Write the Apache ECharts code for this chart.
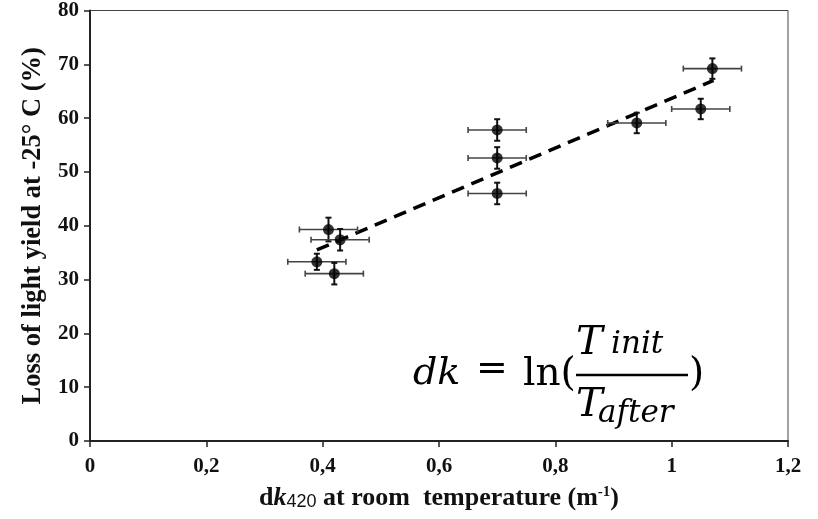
<!DOCTYPE html>
<html><head><meta charset="utf-8">
<script src="https://cdn.jsdelivr.net/npm/echarts@6/dist/echarts.min.js"></script>
<style>html,body{margin:0;padding:0;background:#fff}#c{width:818px;height:519px}</style>
</head><body><div id="c"></div>
<script>
// Data
const dkValues   = [0.39, 0.42, 0.41, 0.43, 0.70, 0.70, 0.70, 0.94, 1.05, 1.07];
const lossValues = [33.3, 31.1, 39.3, 37.4, 57.8, 52.6, 46.0, 59.1, 61.7, 69.2];
const dkErrors   = [0.05, 0.05, 0.05, 0.05, 0.05, 0.05, 0.05, 0.05, 0.05, 0.05];
const lossErrors = [1.5, 2.0, 2.2, 2.0, 2.0, 2.0, 2.0, 1.9, 1.9, 1.9];
const trendX = [0.39, 1.072];
const trendY = [35.5, 67.0];
const xTickLabels = ['0', '0,2', '0,4', '0,6', '0,8', '1', '1,2'];
const yTickLabels = ['0', '10', '20', '30', '40', '50', '60', '70', '80'];

const points = dkValues.map((x, i) => [x, lossValues[i]]);
const errData = dkValues.map((x, i) => [x, lossValues[i], dkErrors[i], lossErrors[i]]);
const trendData = trendX.map((x, i) => [x, trendY[i]]);

const serif = "'Liberation Serif', 'Times New Roman', serif";
const sans = "'Liberation Sans', Arial, sans-serif";
const mathFont = "'DejaVu Serif', serif";

const chart = echarts.init(document.getElementById('c'), null, {renderer: 'canvas'});
chart.setOption({
  animation: false,
  backgroundColor: '#fff',
  grid: {left: 90, right: 30, top: 9, bottom: 78, show: true, borderColor: '#444', borderWidth: 1},
  xAxis: {
    type: 'value', min: 0, max: 1.2, interval: 0.2,
    axisLine: {show: true, lineStyle: {color: '#222', width: 2}},
    axisTick: {show: true, inside: false, length: 6, lineStyle: {color: '#222', width: 1.5}},
    splitLine: {show: false},
    axisLabel: {
      margin: 15, color: '#111', fontFamily: serif, fontWeight: 'bold', fontSize: 21,
      formatter: v => xTickLabels[Math.round(v / 0.2)]
    },
    name: 'd{k|k}{sub|420} at room  temperature (m{sup|-1})',
    nameLocation: 'middle', nameGap: 44,
    nameTextStyle: {
      color: '#111', fontFamily: serif, fontWeight: 'bold', fontSize: 26,
      rich: {
        k: {fontFamily: serif, fontWeight: 'bold', fontStyle: 'italic', fontSize: 26, color: '#111'},
        sub: {fontFamily: sans, fontWeight: 'normal', fontSize: 18, color: '#111', padding: [8, 0, 0, 0]},
        sup: {fontFamily: serif, fontWeight: 'bold', fontSize: 15, color: '#111', padding: [0, 0, 12, 0]}
      }
    }
  },
  yAxis: {
    type: 'value', min: 0, max: 80, interval: 10,
    axisLine: {show: true, lineStyle: {color: '#222', width: 2}},
    axisTick: {show: true, inside: false, length: 6, lineStyle: {color: '#222', width: 1.5}},
    splitLine: {show: false},
    axisLabel: {
      margin: 11, color: '#111', fontFamily: serif, fontWeight: 'bold', fontSize: 21,
      formatter: v => yTickLabels[Math.round(v / 10)]
    },
    name: 'Loss of light yield at -25° C (%)',
    nameLocation: 'middle', nameGap: 42, nameRotate: 90,
    nameTextStyle: {color: '#111', fontFamily: serif, fontWeight: 'bold', fontSize: 26.5}
  },
  series: [
    {
      type: 'line', data: trendData, symbol: 'none', z: 2,
      lineStyle: {color: '#000', width: 3.5, type: [13, 8]}
    },
    {
      type: 'custom', data: errData, z: 3,
      renderItem: function (params, api) {
        const x = api.value(0), y = api.value(1), xe = api.value(2), ye = api.value(3);
        const l = api.coord([x - xe, y]), r = api.coord([x + xe, y]);
        const t = api.coord([x, y + ye]), b = api.coord([x, y - ye]);
        const hs = {stroke: '#444', lineWidth: 1.6};
        const vs = {stroke: '#111', lineWidth: 2};
        const cap = 3;
        return {
          type: 'group',
          children: [
            {type: 'line', shape: {x1: l[0], y1: l[1], x2: r[0], y2: r[1]}, style: hs},
            {type: 'line', shape: {x1: l[0], y1: l[1] - cap, x2: l[0], y2: l[1] + cap}, style: hs},
            {type: 'line', shape: {x1: r[0], y1: r[1] - cap, x2: r[0], y2: r[1] + cap}, style: hs},
            {type: 'line', shape: {x1: t[0], y1: t[1], x2: b[0], y2: b[1]}, style: vs},
            {type: 'line', shape: {x1: t[0] - cap, y1: t[1], x2: t[0] + cap, y2: t[1]}, style: vs},
            {type: 'line', shape: {x1: b[0] - cap, y1: b[1], x2: b[0] + cap, y2: b[1]}, style: vs}
          ]
        };
      }
    },
    {
      type: 'scatter', data: points, symbol: 'circle', symbolSize: 11, z: 4,
      itemStyle: {color: '#000'}
    }
  ],
  graphic: [
    {type: 'text', left: 413, top: 355, z: 10, style: {text: 'dk', font: 'italic 38px ' + mathFont, fill: '#000'}},
    {type: 'text', left: 476, top: 351, z: 10, style: {text: '=', font: '38px ' + mathFont, fill: '#000'}},
    {type: 'text', left: 523, top: 355, z: 10, style: {text: 'ln(', font: '39px ' + mathFont, fill: '#000'}},
    {type: 'text', left: 576, top: 324, z: 10, style: {text: 'T', font: 'italic 40px ' + mathFont, fill: '#000'}},
    {type: 'text', left: 611, top: 329, z: 10, style: {text: 'init', font: 'italic 31px ' + mathFont, fill: '#000'}},
    {type: 'line', z: 10, shape: {x1: 576, y1: 375, x2: 688, y2: 375}, style: {stroke: '#000', lineWidth: 2.5}},
    {type: 'text', left: 576, top: 386, z: 10, style: {text: 'T', font: 'italic 40px ' + mathFont, fill: '#000'}},
    {type: 'text', left: 598, top: 398, z: 10, style: {text: 'after', font: 'italic 31px ' + mathFont, fill: '#000'}},
    {type: 'text', left: 689, top: 355, z: 10, style: {text: ')', font: '39px ' + mathFont, fill: '#000'}}
  ]
});
</script>
</body></html>
